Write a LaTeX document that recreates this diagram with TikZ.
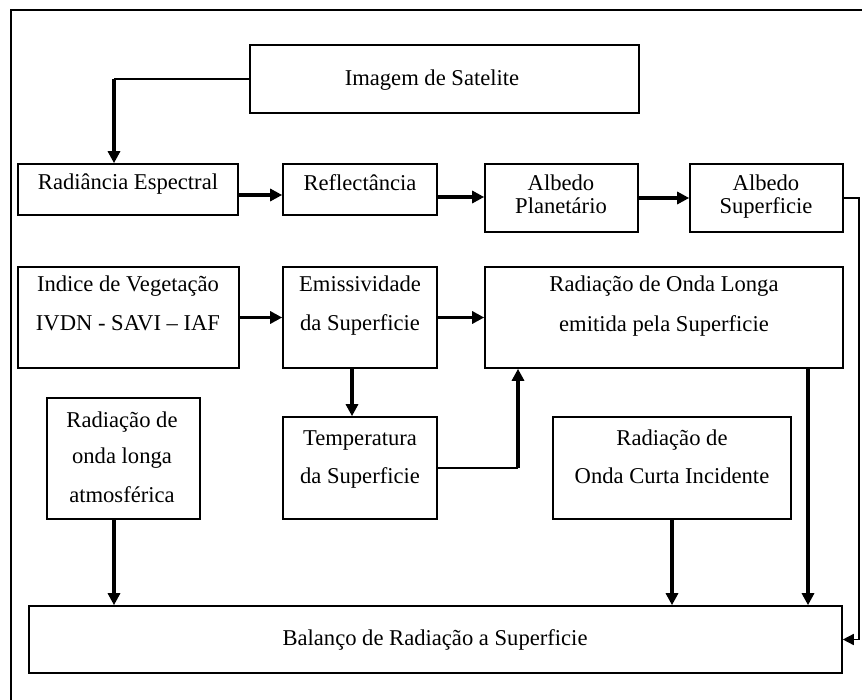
\documentclass[tikz,border=0pt]{standalone}
\usepackage{fontspec}
\setmainfont{Liberation Serif}
\usetikzlibrary{arrows.meta,fit}
\begin{document}
\begin{tikzpicture}[x=1pt,y=-1pt,
  box/.style={draw, line width=1.6pt, inner sep=0pt},
  txt/.style={anchor=base, inner sep=0pt, font=\fontsize{22.6}{26}\selectfont},
  arr/.style={line width=3.3pt, -{Triangle[length=12pt,width=12pt]}},
  thinln/.style={line width=1.5pt},
  thinarr/.style={line width=1.5pt, -{Triangle[length=11pt,width=11pt]}}]
\useasboundingbox (0,0) rectangle (862,700);
% outer frame
\draw[line width=1.8pt] (11,700) -- (11,10) -- (862,10);
% boxes
\node[box, fit={(250,45) (639,113)}] (img) {};
\node[box, fit={(18,164) (238,215)}] (rad) {};
\node[box, fit={(283,164) (437,215)}] (refl) {};
\node[box, fit={(485,164) (638,232)}] (albP) {};
\node[box, fit={(690,164) (843,232)}] (albS) {};
\node[box, fit={(18,267) (239,368)}] (ind) {};
\node[box, fit={(283,267) (437,368)}] (emis) {};
\node[box, fit={(485,267) (843,368)}] (rol) {};
\node[box, fit={(47,398) (200,519)}] (atm) {};
\node[box, fit={(283,417) (437,519)}] (temp) {};
\node[box, fit={(553,417) (791,519)}] (oci) {};
\node[box, fit={(29,606) (842,673)}] (bal) {};
% texts
\node[txt] (t-img) at (432,86) {Imagem de Satelite};
\node[txt] (t-rad) at (128,190) {Radiância Espectral};
\node[txt] (t-refl) at (360,191) {Reflectância};
\node[txt] (t-albP1) at (561,191) {Albedo};
\node[txt] (t-albP2) at (561,214) {Planetário};
\node[txt] (t-albS1) at (766,191) {Albedo};
\node[txt] (t-albS2) at (766,214) {Superficie};
\node[txt] (t-ind1) at (128,292) {Indice de Vegetação};
\node[txt] (t-ind2) at (128,331) {IVDN - SAVI – IAF};
\node[txt] (t-emis1) at (360,292) {Emissividade};
\node[txt] (t-emis2) at (360,331) {da Superficie};
\node[txt] (t-rol1) at (664,292) {Radiação de Onda Longa};
\node[txt] (t-rol2) at (664,332) {emitida pela Superficie};
\node[txt] (t-atm1) at (122,427) {Radiação de};
\node[txt] (t-atm2) at (122,463) {onda longa};
\node[txt] (t-atm3) at (122,502) {atmosférica};
\node[txt] (t-temp1) at (360,445) {Temperatura};
\node[txt] (t-temp2) at (360,483) {da Superficie};
\node[txt] (t-oci1) at (672,445) {Radiação de};
\node[txt] (t-oci2) at (672,483) {Onda Curta Incidente};
\node[txt] (t-bal) at (435,645) {Balanço de Radiação a Superficie};
% helper coordinates
\coordinate (c1) at (114,79);
\coordinate (c2) at (518,468);
\coordinate (fb) at (859,198);
\coordinate (xa) at (114,0);
\coordinate (xr) at (808,0);
\coordinate (xe) at (352,0);
\coordinate (y1) at (0,195);
\coordinate (y2) at (0,197);
% connectors
\draw[thinln] (img.west) -- (c1);
\draw[arr] (c1) -- (c1 |- rad.north);
\draw[arr] (rad.east |- y1) -- (refl.west |- y1);
\draw[arr] (refl.east |- y2) -- (albP.west |- y2);
\draw[arr] (albP.east) -- (albS.west);
\draw[thinarr] (albS.east) -- (fb) |- (bal.east);
\draw[arr] (ind.east) -- (emis.west);
\draw[arr] (emis.east) -- (rol.west);
\draw[arr] (emis.south -| xe) -- (temp.north -| xe);
\draw[thinln] (temp.east) -- (c2);
\draw[arr] (c2) -- (c2 |- rol.south);
\draw[arr] (atm.south -| xa) -- (bal.north -| xa);
\draw[arr] (oci.south) -- (oci.south |- bal.north);
\draw[arr] (rol.south -| xr) -- (bal.north -| xr);
\end{tikzpicture}
\end{document}
